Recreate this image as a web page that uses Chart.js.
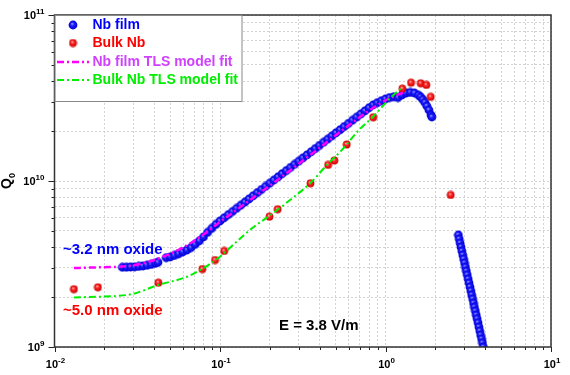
<!DOCTYPE html>
<html lang="en">
<head>
  <meta charset="UTF-8">
  <title>Q0 vs E - Nb film / Bulk Nb</title>
  <script src="https://cdn.jsdelivr.net/npm/chart.js"></script>
  <style>
    html, body { margin: 0; padding: 0; background: #fff; }
    #wrap { width: 570px; height: 375px; }
  </style>
</head>
<body>
  <div id="wrap"><canvas id="qChart" width="570" height="375"></canvas></div>

  <script>
    // Nb film measurement (E in V/m, Q0)
    const filmE = [
      0.02570, 0.02723, 0.02884, 0.03055, 0.03236, 0.03428, 0.03631, 0.03846, 0.04074, 0.04217,
      0.04732, 0.05012, 0.05309, 0.05623, 0.05957, 0.06310, 0.06683, 0.07079, 0.07499, 0.07943,
      0.08414, 0.08913, 0.09441, 0.1000, 0.1059, 0.1122, 0.1189, 0.1259, 0.1334, 0.1413,
      0.1496, 0.1585, 0.1679, 0.1778, 0.1884, 0.1995, 0.2113, 0.2239, 0.2371, 0.2512,
      0.2661, 0.2818, 0.2985, 0.3162, 0.3350, 0.3548, 0.3758, 0.3981, 0.4217, 0.4467,
      0.4732, 0.5012, 0.5309, 0.5623, 0.5957, 0.6310, 0.6683, 0.7079, 0.7499, 0.7943,
      0.8414, 0.8913, 0.9441, 1.000, 1.059, 1.122, 1.189, 1.259, 1.334, 1.413,
      1.496, 1.585, 1.631, 1.679, 1.728, 1.778, 1.830, 1.884, 1.905,
      2.754, 2.788, 2.822, 2.858, 2.893, 2.930, 2.966, 3.004, 3.041, 3.079,
      3.118, 3.158, 3.197, 3.238, 3.278, 3.320, 3.361, 3.403, 3.446, 3.489,
      3.533, 3.577, 3.622, 3.667, 3.713, 3.759, 3.806, 3.854, 3.902, 3.951
    ];
    const filmQ = [
      3.021e9, 3.025e9, 3.033e9, 3.041e9, 3.058e9, 3.076e9, 3.106e9, 3.141e9, 3.193e9, 3.237e9,
      3.45e9, 3.49e9, 3.56e9, 3.64e9, 3.74e9, 3.84e9, 3.97e9, 4.15e9, 4.36e9, 4.60e9,
      4.90e9, 5.18e9, 5.47e9, 5.74e9, 6.00e9, 6.27e9, 6.55e9, 6.84e9, 7.14e9, 7.46e9,
      7.79e9, 8.14e9, 8.50e9, 8.88e9, 9.28e9, 9.69e9, 1.012e10, 1.057e10, 1.105e10, 1.154e10,
      1.205e10, 1.259e10, 1.315e10, 1.374e10, 1.435e10, 1.499e10, 1.566e10, 1.636e10, 1.709e10, 1.785e10,
      1.865e10, 1.948e10, 2.034e10, 2.125e10, 2.220e10, 2.319e10, 2.422e10, 2.530e10, 2.643e10, 2.761e10,
      2.870e10, 2.959e10, 3.042e10, 3.119e10, 3.184e10, 3.215e10, 3.184e10, 3.297e10, 3.389e10, 3.413e10,
      3.389e10, 3.283e10, 3.206e10, 3.097e10, 2.971e10, 2.830e10, 2.677e10, 2.498e10, 2.430e10,
      4.73e9, 4.47e9, 4.23e9, 4.00e9, 3.79e9, 3.58e9, 3.39e9, 3.21e9, 3.03e9, 2.87e9,
      2.72e9, 2.57e9, 2.43e9, 2.30e9, 2.18e9, 2.06e9, 1.95e9, 1.84e9, 1.74e9, 1.65e9,
      1.56e9, 1.48e9, 1.40e9, 1.32e9, 1.25e9, 1.18e9, 1.12e9, 1.06e9, 1.00e9, 0.946e9
    ];

    // Bulk Nb measurement
    const bulkE = [0.0131, 0.0183, 0.0424, 0.0782, 0.0933, 0.106, 0.199, 0.223, 0.352, 0.450,
                   0.491, 0.583, 0.843, 1.264, 1.426, 1.633, 1.765, 1.876, 2.477];
    const bulkQ = [2.23e9, 2.29e9, 2.44e9, 2.95e9, 3.34e9, 3.79e9, 6.10e9, 6.76e9, 9.69e9, 1.25e10,
                   1.33e10, 1.66e10, 2.42e10, 3.60e10, 3.91e10, 3.88e10, 3.79e10, 3.21e10, 8.24e9];

    // TLS model fits
    const filmFitE = [0.0131, 0.0164, 0.0216, 0.0256, 0.0329, 0.0434, 0.0573, 0.0757, 0.1, 0.152,
                      0.230, 0.350, 0.531, 0.806, 1.065, 1.312];
    const filmFitQ = [2.99e9, 3.01e9, 3.03e9, 3.05e9, 3.16e9, 3.44e9, 3.89e9, 4.60e9, 5.66e9, 7.68e9,
                      1.04e10, 1.43e10, 1.97e10, 2.68e10, 3.16e10, 3.44e10];
    const bulkFitE = [0.0131, 0.0188, 0.0239, 0.0298, 0.0422, 0.0632, 0.0779, 0.1, 0.120, 0.156,
                      0.198, 0.265, 0.350, 0.443, 0.546, 0.682, 0.841, 1.065, 1.276];
    const bulkFitQ = [1.99e9, 2.01e9, 2.03e9, 2.09e9, 2.36e9, 2.65e9, 2.95e9, 3.50e9, 4.12e9, 5.19e9,
                      6.15e9, 7.68e9, 9.68e9, 1.25e10, 1.54e10, 2.00e10, 2.44e10, 3.15e10, 3.70e10];

    // axis decades and their labels (10^exp)
    const xDecades = [0.01, 0.1, 1, 10];
    const xExpLabels = ['-2', '-1', '0', '1'];
    const yDecades = [1e9, 1e10, 1e11];
    const yExpLabels = ['9', '10', '11'];

    const seriesNames = ['Nb film', 'Bulk Nb', 'Nb film TLS model fit', 'Bulk Nb TLS model fit'];
    const seriesText = ['#0000ff', '#ff0000', '#d040ff', '#00ee00'];

    const FONT = '"Liberation Sans", Arial, sans-serif';

    // little shaded balls, like the original markers
    function makeBall(r, light, mid, dark) {
      const c = document.createElement('canvas');
      const s = Math.ceil(r * 2) + 1;
      c.width = s; c.height = s;
      const g = c.getContext('2d');
      const grad = g.createRadialGradient(s * 0.4, s * 0.36, 0, s / 2, s / 2, r);
      grad.addColorStop(0, light);
      grad.addColorStop(0.4, mid);
      grad.addColorStop(1, dark);
      g.fillStyle = grad;
      g.beginPath();
      g.arc(s / 2, s / 2, r, 0, Math.PI * 2);
      g.fill();
      return c;
    }
    const blueBall = makeBall(4.4, 'rgb(165,165,255)', 'rgb(30,30,255)', 'rgb(0,0,210)');
    const redBall = makeBall(3.9, 'rgb(255,215,215)', 'rgb(255,40,40)', 'rgb(205,0,0)');

    function toPoints(xs, ys) {
      return xs.map((v, i) => ({ x: v, y: ys[i] }));
    }

    // grid at 1..9 x each decade
    function gridValues(decades) {
      const out = [];
      decades.forEach((d, i) => {
        const last = i === decades.length - 1;
        for (let m = 1; m <= (last ? 1 : 9); m++) {
          out.push({ value: d * m, major: m === 1 });
        }
      });
      return out;
    }

    function drawPow(ctx, exp, x, y, align) {
      ctx.font = 'bold 11px ' + FONT;
      const wb = ctx.measureText('10').width;
      ctx.font = 'bold 8px ' + FONT;
      const we = ctx.measureText(exp).width;
      const start = align === 'right' ? x - wb - we : x - (wb + we) / 2;
      ctx.textAlign = 'left';
      ctx.textBaseline = 'alphabetic';
      ctx.font = 'bold 11px ' + FONT;
      ctx.fillText('10', start, y);
      ctx.font = 'bold 8px ' + FONT;
      ctx.fillText(exp, start + wb, y - 5);
    }

    const decorations = {
      id: 'decorations',
      afterDraw(chart) {
        const { ctx, chartArea: a, scales: { x, y } } = chart;
        ctx.save();
        ctx.setLineDash([]);

        // ticks
        ctx.strokeStyle = '#222';
        ctx.lineWidth = 1;
        x.ticks.forEach(t => {
          const px = Math.round(x.getPixelForValue(t.value)) + 0.5;
          const len = t.major ? 5 : 3;
          ctx.beginPath(); ctx.moveTo(px, a.bottom); ctx.lineTo(px, a.bottom + len); ctx.stroke();
        });
        y.ticks.forEach(t => {
          const py = Math.round(y.getPixelForValue(t.value)) + 0.5;
          const len = t.major ? 6 : 3;
          ctx.beginPath(); ctx.moveTo(a.left - len, py); ctx.lineTo(a.left, py); ctx.stroke();
        });

        // frame
        ctx.strokeStyle = '#333';
        ctx.lineWidth = 1.5;
        ctx.strokeRect(a.left, a.top, a.right - a.left, a.bottom - a.top);

        // tick labels
        ctx.fillStyle = '#000';
        xDecades.forEach((v, i) => drawPow(ctx, xExpLabels[i], x.getPixelForValue(v) + 1, a.bottom + 21, 'center'));
        yDecades.forEach((v, i) => drawPow(ctx, yExpLabels[i], a.left - 10, y.getPixelForValue(v) + 4, 'right'));

        // y axis title Q0
        ctx.save();
        ctx.translate(10.5, 189);
        ctx.rotate(-Math.PI / 2);
        ctx.textAlign = 'left';
        ctx.textBaseline = 'alphabetic';
        ctx.font = 'bold 14px ' + FONT;
        ctx.fillText('Q', 0, 0);
        const qw = ctx.measureText('Q').width;
        ctx.font = 'bold 9px ' + FONT;
        ctx.fillText('0', qw, 4.5);
        ctx.restore();

        // annotations
        ctx.font = 'bold 15px ' + FONT;
        ctx.textAlign = 'left';
        ctx.textBaseline = 'middle';
        ctx.fillStyle = '#0000ff';
        ctx.fillText('~3.2 nm oxide', 63, 249.5);
        ctx.fillStyle = '#ff0000';
        ctx.fillText('~5.0 nm oxide', 63, 310.5);
        ctx.fillStyle = '#000';
        ctx.fillText('E = 3.8 V/m', 279, 325.5);

        // legend
        const lx = a.left, ly = a.top, lw = 187, lh = 86;
        ctx.fillStyle = '#fff';
        ctx.fillRect(lx + 1, ly + 1, lw - 1, lh - 1);
        ctx.strokeStyle = '#888';
        ctx.lineWidth = 1;
        ctx.strokeRect(lx + 0.5, ly + 0.5, lw, lh);
        const rows = [25, 43, 62, 80];
        chart.data.datasets.forEach((ds, i) => {
          const ry = rows[i];
          if (ds.showLine) {
            ctx.save();
            ctx.strokeStyle = ds.borderColor;
            ctx.lineWidth = ds.borderWidth;
            ctx.setLineDash(ds.borderDash);
            ctx.beginPath(); ctx.moveTo(57, ry); ctx.lineTo(89, ry); ctx.stroke();
            ctx.restore();
          } else {
            const img = ds.pointStyle;
            ctx.drawImage(img, 73 - img.width / 2, ry - img.height / 2);
          }
          ctx.fillStyle = seriesText[i];
          ctx.font = 'bold 14px ' + FONT;
          ctx.textBaseline = 'middle';
          ctx.textAlign = 'left';
          ctx.fillText(seriesNames[i], 92.5, ry + 0.5);
        });

        ctx.restore();
      }
    };

    const ctx = document.getElementById('qChart').getContext('2d');
    new Chart(ctx, {
      type: 'scatter',
      data: {
        datasets: [
          {
            label: seriesNames[0],
            data: toPoints(filmE, filmQ),
            pointStyle: blueBall,
            pointRadius: 4.4,
            clip: 0,
            order: 3
          },
          {
            label: seriesNames[1],
            data: toPoints(bulkE, bulkQ),
            pointStyle: redBall,
            pointRadius: 3.9,
            order: 2
          },
          {
            label: seriesNames[2],
            data: toPoints(filmFitE, filmFitQ),
            showLine: true,
            borderColor: '#ff00ff',
            borderWidth: 2.5,
            borderDash: [7, 3, 2, 3],
            pointRadius: 0,
            cubicInterpolationMode: 'monotone',
            order: 1
          },
          {
            label: seriesNames[3],
            data: toPoints(bulkFitE, bulkFitQ),
            showLine: true,
            borderColor: '#00ee00',
            borderWidth: 2,
            borderDash: [7, 3, 2, 3],
            pointRadius: 0,
            cubicInterpolationMode: 'monotone',
            order: 0
          }
        ]
      },
      options: {
        responsive: false,
        animation: false,
        events: [],
        layout: { padding: { top: 15, right: 19, left: 0, bottom: 0 } },
        plugins: {
          legend: { display: false },
          tooltip: { enabled: false }
        },
        scales: {
          x: {
            type: 'logarithmic',
            min: 0.01,
            max: 10,
            afterBuildTicks: scale => { scale.ticks = gridValues(xDecades); },
            afterFit: scale => { scale.height = 28; },
            ticks: { display: false },
            grid: { color: '#d2d2d2', lineWidth: 1, drawTicks: false },
            border: { display: false, dash: [2, 2] }
          },
          y: {
            type: 'logarithmic',
            min: 1e9,
            max: 1e11,
            afterBuildTicks: scale => { scale.ticks = gridValues(yDecades); },
            afterFit: scale => { scale.width = 54.5; },
            ticks: { display: false },
            grid: { color: '#d2d2d2', lineWidth: 1, drawTicks: false },
            border: { display: false, dash: [2, 2] }
          }
        }
      },
      plugins: [decorations]
    });
  </script>
</body>
</html>
